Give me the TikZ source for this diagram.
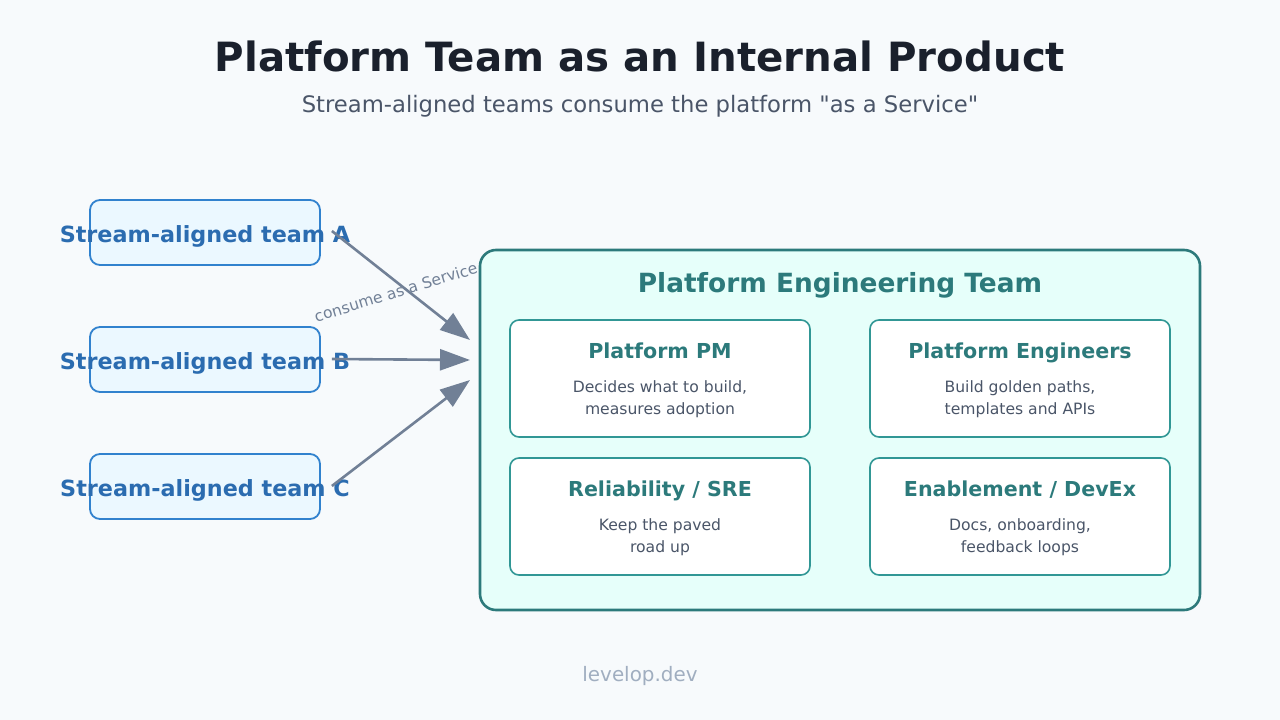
\documentclass[tikz,border=0pt]{standalone}
\usepackage{fontspec}
\setmainfont{DejaVu Sans}
\usepackage{tikz}
\usetikzlibrary{arrows.meta}

\definecolor{pagebg}{HTML}{F7FAFC}
\definecolor{titleink}{HTML}{1A202C}
\definecolor{subink}{HTML}{4A5568}
\definecolor{teamfill}{HTML}{EBF8FF}
\definecolor{teamline}{HTML}{3182CE}
\definecolor{teamink}{HTML}{2B6CB0}
\definecolor{arrowink}{HTML}{718096}
\definecolor{platfill}{HTML}{E6FFFA}
\definecolor{platline}{HTML}{2C7A7B}
\definecolor{roleline}{HTML}{319795}
\definecolor{footink}{HTML}{A0AEC0}

\begin{document}
\begin{tikzpicture}[x=1pt, y=-1pt,
    teambox/.style={draw=teamline, fill=teamfill, line width=1.8pt, rounded corners=10pt,
        minimum width=230pt, minimum height=65pt, inner sep=0pt},
    teamtext/.style={anchor=base, text=teamink, font=\fontsize{22.3}{26}\selectfont\bfseries},
    rolebox/.style={draw=roleline, fill=white, line width=1.6pt, rounded corners=9pt,
        minimum width=300pt, minimum height=117pt, inner sep=0pt},
    roletitle/.style={anchor=base, text=platline, font=\fontsize{20.6}{24}\selectfont\bfseries},
    roletext/.style={anchor=base, text=subink, font=\fontsize{15.6}{19}\selectfont},
    consume/.style={draw=arrowink, line width=2.6pt, -{Triangle[length=30pt, width=21pt]}}]
        \fill[pagebg] (0,0) rectangle (1280,720);
        \useasboundingbox (0,0) rectangle (1280,720);

        \node[anchor=base, text=titleink, font=\fontsize{40.3}{46}\selectfont\bfseries] (title) at (640,71.5) {Platform Team as an Internal Product};
        \node[anchor=base, text=subink, font=\fontsize{22.7}{27}\selectfont] (subtitle) at (640,112) {Stream-aligned teams consume the platform \textquotedbl as a Service\textquotedbl};

        % stream-aligned teams
        \node[teambox] (boxA) at (205,232.5) {};
        \node[teambox] (boxB) at (205,359.5) {};
        \node[teambox] (boxC) at (205,486.5) {};
        \node[teamtext] (teamA) at (205,242) {Stream-aligned team A};
        \node[teamtext] (teamB) at (205,369) {Stream-aligned team B};
        \node[teamtext] (teamC) at (205,496) {Stream-aligned team C};

        \node[anchor=base, rotate=17, text=arrowink, font=\fontsize{15.5}{19}\selectfont] (service) at (397.5,297.5) {consume as a Service};

        \coordinate (inA) at (470,340);
        \coordinate (inB) at (470,360);
        \coordinate (inC) at (470,380);
        \draw[consume] ([xshift=11pt,yshift=1.5pt]boxA.east) -- (inA);
        \draw[consume] ([xshift=11pt,yshift=0.5pt]boxB.east) -- (inB);
        \draw[consume] ([xshift=11pt,yshift=0.5pt]boxC.east) -- (inC);

        % platform team
        \node[draw=platline, fill=platfill, line width=2.6pt, rounded corners=16pt,
            minimum width=720pt, minimum height=360pt, inner sep=0pt] (platform) at (840,430) {};
        \node[anchor=base, text=platline, font=\fontsize{26.4}{30}\selectfont\bfseries] (platname) at (840,292) {Platform Engineering Team};

        \node[rolebox] (pm) at (660,378.5) {};
        \node[rolebox] (eng) at (1020,378.5) {};
        \node[rolebox] (sre) at (660,516.5) {};
        \node[rolebox] (devex) at (1020,516.5) {};

        \node[roletitle] at (660,358.5) {Platform PM};
        \node[roletext] at (660,392.7) {Decides what to build,};
        \node[roletext] at (660,414.7) {measures adoption};

        \node[roletitle] at (1020,358.5) {Platform Engineers};
        \node[roletext] at (1020,392.7) {Build golden paths,};
        \node[roletext] at (1020,414.7) {templates and APIs};

        \node[roletitle] at (660,496.5) {Reliability / SRE};
        \node[roletext] at (660,530.7) {Keep the paved};
        \node[roletext] at (660,552.7) {road up};

        \node[roletitle] at (1020,496.5) {Enablement / DevEx};
        \node[roletext] at (1020,530.7) {Docs, onboarding,};
        \node[roletext] at (1020,552.7) {feedback loops};

        \node[anchor=base, text=footink, font=\fontsize{19.9}{24}\selectfont] (footer) at (640,681) {levelop.dev};
    \end{tikzpicture}
\end{document}
